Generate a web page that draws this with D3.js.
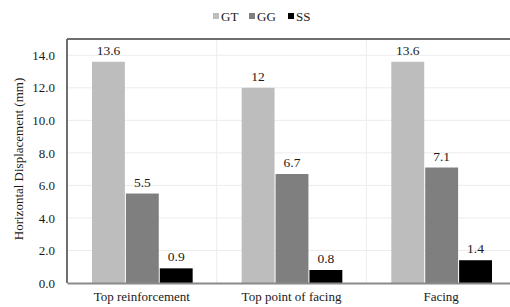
<!DOCTYPE html>
<html>
<head>
<meta charset="utf-8">
<script src="https://cdn.jsdelivr.net/npm/d3@7"></script>
<style>
  body { margin: 0; background: #fff; }
</style>
</head>
<body>
<div id="chart"></div>
<script>
var categories = ["Top reinforcement", "Top point of facing", "Facing"];
var series = ["GT", "GG", "SS"];
var gtValues = [13.6, 12, 13.6];
var ggValues = [5.5, 6.7, 7.1];
var ssValues = [0.9, 0.8, 1.4];
var labels = [["13.6", "12", "13.6"], ["5.5", "6.7", "7.1"], ["0.9", "0.8", "1.4"]];
var yTicks = [0, 2, 4, 6, 8, 10, 12, 14];
var colors = ["#bdbdbd", "#7f7f7f", "#000000"];

var width = 510, height = 307;
var margin = {top: 39, left: 67, bottom: 283, right: 516};
var serif = "'Liberation Serif'";
var ink = "#1a1a1a";

var svg = d3.select("#chart").append("svg")
    .attr("width", width)
    .attr("height", height);

var x = d3.scaleBand().domain(categories).range([margin.left, margin.right]).paddingInner(0).paddingOuter(0);
var xs = d3.scaleBand().domain(series).range([25, x.bandwidth() - 24]).paddingInner(0.03);
var y = d3.scaleLinear().domain([0, 15]).range([margin.bottom, margin.top]);

var values = [gtValues, ggValues, ssValues];

// gridlines
svg.append("g")
  .selectAll("line")
  .data(yTicks.slice(1))
  .join("line")
    .attr("x1", margin.left).attr("x2", margin.right)
    .attr("y1", d => y(d)).attr("y2", d => y(d))
    .attr("stroke", "#ececec").attr("stroke-width", 1);

svg.append("g")
  .selectAll("line")
  .data(categories.slice(1))
  .join("line")
    .attr("x1", d => x(d)).attr("x2", d => x(d))
    .attr("y1", margin.top).attr("y2", margin.bottom)
    .attr("stroke", "#ececec").attr("stroke-width", 1);

// bars
series.forEach((s, i) => {
  var g = svg.append("g");
  g.selectAll("rect")
    .data(categories)
    .join("rect")
      .attr("x", d => x(d) + xs(s))
      .attr("width", xs.bandwidth())
      .attr("y", (d, j) => y(values[i][j]))
      .attr("height", (d, j) => y(0) - y(values[i][j]))
      .attr("fill", colors[i]);
  g.selectAll("text")
    .data(categories)
    .join("text")
      .attr("x", d => x(d) + xs(s) + xs.bandwidth() / 2)
      .attr("y", (d, j) => y(values[i][j]) - 7)
      .attr("text-anchor", "middle")
      .attr("font-size", 13.5)
      .attr("fill", ink)
      .style("font-family", serif)
      .text((d, j) => labels[i][j]);
});

// frame
svg.append("line")
  .attr("x1", margin.left).attr("x2", margin.right)
  .attr("y1", margin.top).attr("y2", margin.top)
  .attr("stroke", "#6f6f6f").attr("stroke-width", 2);
svg.append("line")
  .attr("x1", margin.left).attr("x2", margin.left)
  .attr("y1", margin.top).attr("y2", margin.bottom)
  .attr("stroke", "#6f6f6f").attr("stroke-width", 2);

// x axis
var xAxis = svg.append("g")
  .attr("transform", "translate(0," + margin.bottom + ")")
  .call(d3.axisBottom(x).tickSize(0).tickPadding(9));
xAxis.select(".domain").attr("stroke", "#8a8a8a").attr("stroke-width", 2);
xAxis.selectAll("text").attr("font-size", 13).style("font-family", serif).attr("fill", ink);

// y axis
var yAxis = svg.append("g")
  .attr("transform", "translate(" + margin.left + ",0)")
  .call(d3.axisLeft(y).tickValues(yTicks).tickSize(0).tickPadding(12).tickFormat(d3.format(".1f")));
yAxis.select(".domain").remove();
yAxis.selectAll("text").attr("font-size", 13).style("font-family", serif).attr("fill", ink);

svg.append("text")
  .attr("transform", "translate(23," + 159 + ") rotate(-90)")
  .attr("text-anchor", "middle")
  .attr("font-size", 13)
  .attr("fill", ink)
  .style("font-family", serif)
  .text("Horizontal Displacement (mm)");

// legend
var legend = svg.append("g").attr("transform", "translate(213,16)");
var lx = [0, 36, 75];
series.forEach((s, i) => {
  legend.append("rect")
    .attr("x", lx[i]).attr("y", -3)
    .attr("width", 6).attr("height", 6)
    .attr("fill", colors[i]);
  legend.append("text")
    .attr("x", lx[i] + 8).attr("y", 4.5)
    .attr("font-size", 13)
    .attr("fill", ink)
    .style("font-family", serif)
    .text(s);
});
</script>
</body>
</html>
